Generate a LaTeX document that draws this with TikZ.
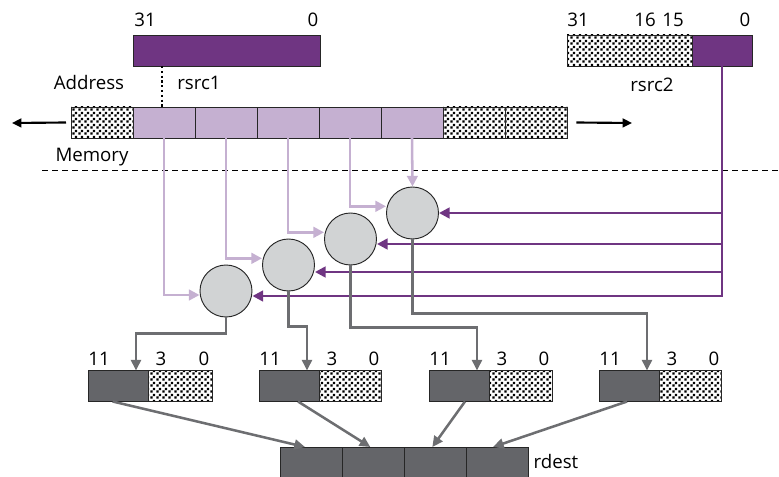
\documentclass[tikz,border=0pt]{standalone}
\usepackage{fontspec}
\setmainfont{Open Sans}
\usepackage{tikz}
\usetikzlibrary{positioning,arrows.meta,patterns}

\definecolor{dpurp}{RGB}{111,53,130}
\definecolor{lpurp}{RGB}{197,176,209}
\definecolor{dgray}{RGB}{100,101,105}
\definecolor{lgray}{RGB}{209,211,212}
\definecolor{wgray}{RGB}{109,110,113}

% squared dots for the unused bits
\pgfdeclarepatternformonly{bitdots}{\pgfpointorigin}{\pgfqpoint{4.5pt}{4.5pt}}{\pgfqpoint{4.5pt}{4.5pt}}{%
  \pgfpathrectangle{\pgfqpoint{0.3pt}{0.3pt}}{\pgfqpoint{1.9pt}{1.9pt}}%
  \pgfpathrectangle{\pgfqpoint{2.55pt}{2.55pt}}{\pgfqpoint{1.9pt}{1.9pt}}%
  \pgfusepath{fill}}

\tikzset{
  cell/.style={draw=black!85, line width=0.7pt, minimum height=23.25pt, inner sep=0pt, outer sep=0pt},
  memcell/.style={cell, fill=lpurp, minimum width=46.5pt},
  dotcell/.style={cell, pattern=bitdots, minimum width=#1},
  dotcell/.default=46.5pt,
  alu/.style={circle, draw=black!85, fill=lgray, line width=0.7pt, minimum size=39pt, inner sep=0pt},
  lbl/.style={font=\fontsize{14}{16}\selectfont, inner sep=0pt},
  ldata/.style={lpurp, line width=1.9pt, -{Triangle[length=8pt,width=8pt]}},
  bus/.style={dpurp, line width=1.9pt, -{Triangle[length=8pt,width=8pt]}},
  wire/.style={wgray, line width=1.9pt, -{Triangle[length=8pt,width=7.5pt]}},
}

\begin{document}
\begin{tikzpicture}[x=0.75pt, y=-0.75pt]
      \useasboundingbox (0,0) rectangle (779,477);
      % source registers
      \node[cell, fill=dpurp, minimum width=140.25pt] (rs1) at (226.5,50.5) {};
      \node[dotcell=93.75pt] (rs2hi) at (629.5,50.5) {};
      \node[cell, fill=dpurp, minimum width=45pt, right=0pt of rs2hi] (rs2lo) {};
      \node[lbl] (rs1b31) at (145,20) {31};
      \node[lbl] (rs1b0) at (313,20) {0};
      \node[lbl] (rs1name) at (199,83) {rsrc1};
      \node[lbl] (addr) at (89,83) {Address};
      \node[lbl] (rs2b31) at (578,20) {31};
      \node[lbl] (rs2b16) at (645,20) {16};
      \node[lbl] (rs2b15) at (673,20) {15};
      \node[lbl] (rs2b0) at (745,20) {0};
      \node[lbl] (rs2name) at (652,85) {rsrc2};

      % memory
      \node[dotcell] (m0) at (102,122.5) {};
      \node[memcell, right=0pt of m0] (m1) {};
      \node[memcell, right=0pt of m1] (m2) {};
      \node[memcell, right=0pt of m2] (m3) {};
      \node[memcell, right=0pt of m3] (m4) {};
      \node[memcell, right=0pt of m4] (m5) {};
      \node[dotcell, right=0pt of m5] (m6) {};
      \node[dotcell, right=0pt of m6] (m7) {};
      \node[lbl] (mem) at (92,157) {Memory};
      \coordinate (lfar) at (12,123);
      \coordinate (rfar) at (632,123);
      \draw[line width=1.6pt, -{Triangle[length=7pt,width=6.5pt]}] ([xshift=-3.75pt]m0.west) -- (lfar);
      \draw[line width=1.6pt, -{Triangle[length=7pt,width=6.5pt]}] ([xshift=7pt]m7.east) -- (rfar);
      \draw[line width=1.6pt, dotted] ([xshift=-1.5pt]m1.north |- rs1.south) -- ([xshift=-1.5pt]m1.north);
      \draw[line width=0.6pt, dash pattern=on 4.5pt off 3pt] (42,170) -- (779,170);

      % byte lanes
      \node[alu] (c1) at (226,291) {};
      \node[alu] (c2) at (288.5,265) {};
      \node[alu] (c3) at (350.5,239) {};
      \node[alu] (c4) at (412.5,213) {};
      \draw[ldata] (m1.south) |- ([yshift=-3pt]c1.west);
      \draw[ldata] (m2.south) |- ([yshift=5pt]c2.west);
      \draw[ldata] (m3.south) |- ([yshift=5pt]c3.west);
      \draw[ldata] (m4.south) |- ([yshift=5pt]c4.west);
      \draw[ldata] (m5.south) -- (c4.north);

      % shift amount
      \coordinate (tap1) at (722,296);
      \coordinate (tap2) at (722,272);
      \coordinate (tap3) at (722,244);
      \coordinate (tap4) at (722,213);
      \draw[bus] (rs2lo.south) |- (c1.east |- tap1);
      \draw[bus] (tap2) -- (c2.east |- tap2);
      \draw[bus] (tap3) -- (c3.east |- tap3);
      \draw[bus] (tap4) -- (c4.east |- tap4);

      % results
      \node[cell, fill=dgray, minimum width=45pt] (r1hi) at (118,386) {};
      \node[dotcell=48pt, right=0pt of r1hi] (r1lo) {};
      \node[cell, fill=dgray, minimum width=45pt] (r2hi) at (289,386) {};
      \node[dotcell=46.5pt, right=0pt of r2hi] (r2lo) {};
      \node[cell, fill=dgray, minimum width=45pt] (r3hi) at (459,386) {};
      \node[dotcell=47.25pt, right=0pt of r3hi] (r3lo) {};
      \node[cell, fill=dgray, minimum width=45pt] (r4hi) at (629,386) {};
      \node[dotcell=46.5pt, right=0pt of r4hi] (r4lo) {};
      \node[lbl] (r1b11) at (99,359) {11};
      \node[lbl] (r1b3) at (161,359) {3};
      \node[lbl] (r1b0) at (204,359) {0};
      \node[lbl] (r2b11) at (270,359) {11};
      \node[lbl] (r2b3) at (332,359) {3};
      \node[lbl] (r2b0) at (374,359) {0};
      \node[lbl] (r3b11) at (440,359) {11};
      \node[lbl] (r3b3) at (502,359) {3};
      \node[lbl] (r3b0) at (544,359) {0};
      \node[lbl] (r4b11) at (610,359) {11};
      \node[lbl] (r4b3) at (672,359) {3};
      \node[lbl] (r4b0) at (714,359) {0};
      \draw[wire] (c1.south) -- ++(0,16) -| ([xshift=-9pt]r1hi.north east);
      \draw[wire] (c2.south) -- ++(0,35) -| ([xshift=-9pt]r2hi.north east);
      \draw[wire] (c3.south) -- ++(0,62) -| ([xshift=-9pt]r3hi.north east);
      \draw[wire] (c4.south) -- ++(0,74) -| ([xshift=-9pt]r4hi.north east);

      % destination
      \node[cell, fill=dgray, minimum width=46.5pt] (d1) at (311,462.5) {};
      \node[cell, fill=dgray, minimum width=46.5pt, right=0pt of d1] (d2) {};
      \node[cell, fill=dgray, minimum width=46.5pt, right=0pt of d2] (d3) {};
      \node[cell, fill=dgray, minimum width=46.5pt, right=0pt of d3] (d4) {};
      \node[lbl] (dname) at (556,462) {rdest};
      \draw[wire] ([xshift=-4pt]r1hi.south) -- ([xshift=-4.5pt]d1.north);
      \draw[wire] ([xshift=6.75pt]r2hi.south) -- ([xshift=-2pt]d2.north);
      \draw[wire] ([xshift=4.5pt]r3hi.south) -- ([xshift=-2pt]d3.north);
      \draw[wire] ([xshift=-1.5pt]r4hi.south) -- ([xshift=-3pt]d4.north);
\end{tikzpicture}
\end{document}
